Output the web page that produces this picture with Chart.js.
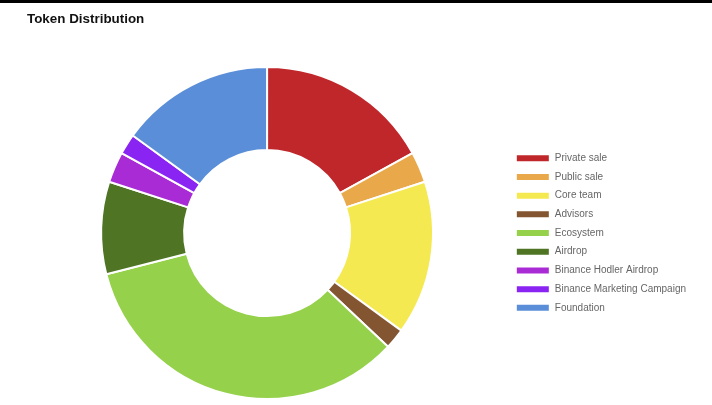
<!DOCTYPE html>
<html>
<head>
<meta charset="utf-8">
<script src="https://cdn.jsdelivr.net/npm/chart.js@4/dist/chart.umd.min.js"></script>
<style>
html,body{margin:0;padding:0;background:#fff;}
#bar{height:3px;background:#000;width:712px;}
#wrap{width:712px;height:402px;position:relative;}
</style>
</head>
<body>
<div id="bar"></div>
<div id="wrap"><canvas id="c"></canvas></div>
<script>
const titleText = "Token Distribution";
const categories = ["Private sale","Public sale","Core team","Advisors","Ecosystem","Airdrop","Binance Hodler Airdrop","Binance Marketing Campaign","Foundation"];
const shares = [17, 3, 15, 2, 34, 9, 3, 2, 15];
const colors = ["#c0272b","#e9a84a","#f5e951","#835631","#95d14b","#4e7424","#a82bd6","#8a24f2","#5b8ed8"];

new Chart(document.getElementById('c'), {
  type: 'doughnut',
  data: {
    labels: categories,
    datasets: [{
      data: shares,
      backgroundColor: colors,
      borderColor: '#ffffff',
      borderWidth: 2
    }]
  },
  options: {
    responsive: true,
    maintainAspectRatio: false,
    animation: false,
    cutout: '50%',
    layout: { padding: { left: 27, right: 16, top: 0, bottom: 5 } },
    plugins: {
      title: {
        display: true,
        text: titleText,
        align: 'start',
        color: '#111',
        font: { family: 'Liberation Sans, Arial, sans-serif', size: 13.4, weight: 'bold' },
        padding: { top: 8, bottom: 39 }
      },
      legend: {
        position: 'right',
        fullSize: false,
        labels: {
          boxWidth: 34,
          boxHeight: 8,
          padding: 8.7,
          color: '#666',
          font: { family: 'Liberation Sans, Arial, sans-serif', size: 10 }
        }
      },
      tooltip: { enabled: false }
    }
  }
});
</script>
</body>
</html>
